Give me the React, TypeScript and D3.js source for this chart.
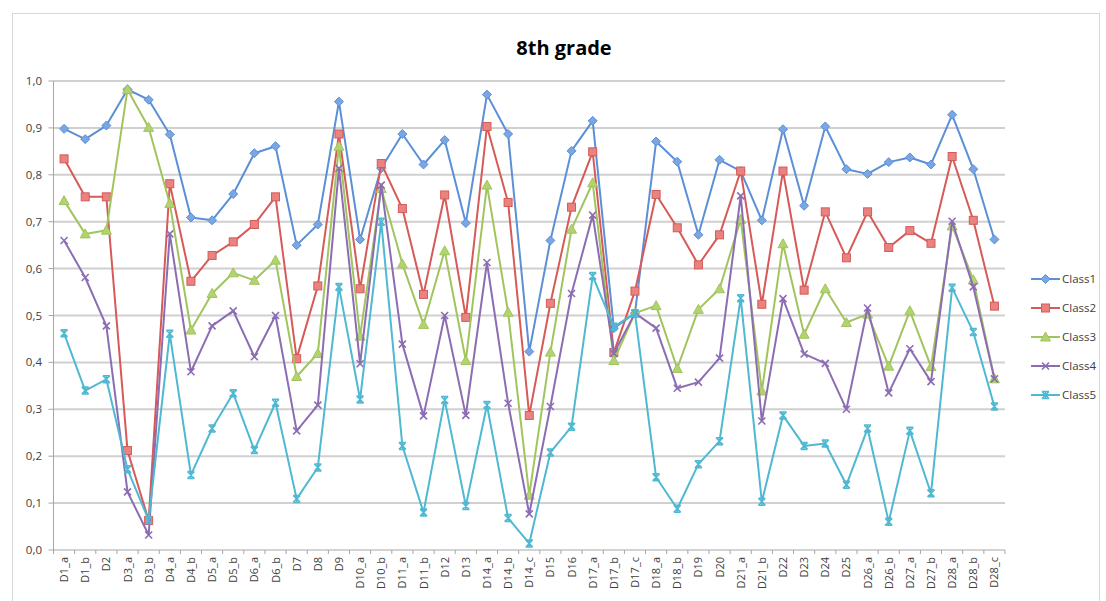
import React from "react";
import * as d3 from "d3";

const categories = [
  "D1_a", "D1_b", "D2", "D3_a", "D3_b", "D4_a", "D4_b", "D5_a", "D5_b", "D6_a", "D6_b",
  "D7", "D8", "D9", "D10_a", "D10_b", "D11_a", "D11_b", "D12", "D13", "D14_a", "D14_b",
  "D14_c", "D15", "D16", "D17_a", "D17_b", "D17_c", "D18_a", "D18_b", "D19", "D20",
  "D21_a", "D21_b", "D22", "D23", "D24", "D25", "D26_a", "D26_b", "D27_a", "D27_b",
  "D28_a", "D28_b", "D28_c",
];

const class1 = [
  0.898, 0.876, 0.905, 0.982, 0.96, 0.886, 0.709, 0.703, 0.759, 0.846, 0.861,
  0.65, 0.694, 0.956, 0.662, 0.814, 0.887, 0.822, 0.874, 0.697, 0.971, 0.887,
  0.423, 0.66, 0.851, 0.915, 0.473, 0.505, 0.871, 0.828, 0.672, 0.832,
  0.808, 0.703, 0.897, 0.734, 0.903, 0.812, 0.802, 0.827, 0.837, 0.822,
  0.928, 0.812, 0.662,
];
const class2 = [
  0.834, 0.753, 0.753, 0.212, 0.063, 0.781, 0.573, 0.628, 0.657, 0.694, 0.753,
  0.408, 0.563, 0.887, 0.557, 0.824, 0.728, 0.545, 0.757, 0.496, 0.903, 0.741,
  0.287, 0.526, 0.731, 0.849, 0.421, 0.552, 0.758, 0.687, 0.608, 0.672,
  0.808, 0.524, 0.808, 0.554, 0.721, 0.623, 0.721, 0.645, 0.681, 0.654,
  0.839, 0.703, 0.52,
];
const class3 = [
  0.745, 0.674, 0.682, 0.982, 0.901, 0.739, 0.469, 0.547, 0.591, 0.575, 0.618,
  0.37, 0.419, 0.861, 0.456, 0.771, 0.61, 0.481, 0.638, 0.404, 0.778, 0.507,
  0.117, 0.422, 0.684, 0.783, 0.404, 0.505, 0.521, 0.387, 0.513, 0.557,
  0.705, 0.339, 0.653, 0.46, 0.557, 0.485, 0.503, 0.392, 0.51, 0.391,
  0.691, 0.576, 0.365,
];
const class4 = [
  0.66, 0.581, 0.478, 0.124, 0.032, 0.674, 0.38, 0.478, 0.51, 0.412, 0.5,
  0.254, 0.309, 0.814, 0.397, 0.778, 0.439, 0.286, 0.5, 0.287, 0.613, 0.313,
  0.077, 0.306, 0.547, 0.714, 0.419, 0.505, 0.473, 0.345, 0.358, 0.409,
  0.755, 0.275, 0.536, 0.418, 0.398, 0.3, 0.516, 0.335, 0.429, 0.359,
  0.701, 0.561, 0.365,
];
const class5 = [
  0.462, 0.34, 0.364, 0.172, 0.064, 0.461, 0.16, 0.259, 0.334, 0.213, 0.314,
  0.109, 0.176, 0.561, 0.321, 0.7, 0.222, 0.08, 0.32, 0.094, 0.309, 0.068,
  0.014, 0.208, 0.263, 0.584, 0.476, 0.505, 0.155, 0.088, 0.183, 0.232,
  0.537, 0.103, 0.287, 0.222, 0.227, 0.139, 0.259, 0.06, 0.254, 0.121,
  0.559, 0.465, 0.306,
];

const yTicks = [0, 0.1, 0.2, 0.3, 0.4, 0.5, 0.6, 0.7, 0.8, 0.9, 1.0];

const series = [
  { name: "Class1", values: class1, color: "#5b8fd6", fill: "#7aa7e3", marker: "diamond" },
  { name: "Class2", values: class2, color: "#d65a57", fill: "#e88381", marker: "square" },
  { name: "Class3", values: class3, color: "#a2c45e", fill: "#b2d46e", marker: "triangle" },
  { name: "Class4", values: class4, color: "#8c6db3", fill: "#8c6db3", marker: "x" },
  { name: "Class5", values: class5, color: "#4fb8d2", fill: "#4fb8d2", marker: "star" },
];

const W = 1106;
const H = 601;
const left = 53.5;
const right = 1005;
const top = 81;
const bottom = 550;
const font = "'Open Sans', 'Liberation Sans', Arial, sans-serif";

function Marker({ type, x, y, color, fill }: { type: string; x: number; y: number; color: string; fill: string }) {
  if (type === "diamond") {
    const r = 4.5;
    return <path d={`M${x},${y - r}L${x + r},${y}L${x},${y + r}L${x - r},${y}Z`} fill={fill} stroke={color} strokeWidth={1} />;
  }
  if (type === "square") {
    const r = 4;
    return <rect x={x - r} y={y - r} width={2 * r} height={2 * r} fill={fill} stroke={color} strokeWidth={1} />;
  }
  if (type === "triangle") {
    const r = 5;
    return <path d={`M${x},${y - r}L${x + r},${y + r * 0.8}L${x - r},${y + r * 0.8}Z`} fill={fill} stroke={color} strokeWidth={1} />;
  }
  if (type === "x") {
    const r = 3.5;
    return <path d={`M${x - r},${y - r}L${x + r},${y + r}M${x + r},${y - r}L${x - r},${y + r}`} stroke={color} strokeWidth={1.6} fill="none" />;
  }
  const r = 3.5;
  return (
    <path
      d={`M${x - r},${y - r}L${x + r},${y + r}M${x + r},${y - r}L${x - r},${y + r}M${x},${y - r - 0.5}L${x},${y + r + 0.5}M${x - r},${y - r}L${x + r},${y - r}M${x - r},${y + r}L${x + r},${y + r}`}
      stroke={color}
      strokeWidth={1.5}
      fill="none"
    />
  );
}

export default function App() {
  const x = d3.scaleBand<string>().domain(categories).range([left, right]);
  const y = d3.scaleLinear().domain([0, 1]).range([bottom, top]);
  const cx = (c: string) => (x(c) ?? 0) + x.bandwidth() / 2;
  const fmt = (v: number) => d3.format(".1f")(v).replace(".", ",");

  const line = d3
    .line<number>()
    .x((_, i) => cx(categories[i]))
    .y((d) => y(d));

  const boundaries = categories.map((c) => x(c) ?? 0).concat([right]);

  return (
    <div style={{ position: "absolute", left: 0, top: 0 }}>
      <svg width={W} height={H} style={{ display: "block", background: "#fff" }}>
        <rect x={12.5} y={13.5} width={1087} height={620} fill="#fff" stroke="#d9d9d9" strokeWidth={1} />
        <text x={564} y={55} textAnchor="middle" fontFamily={font} fontWeight="bold" fontSize={20} fill="#000">
          8th grade
        </text>

        {/* gridlines */}
        {yTicks.filter((t) => t > 0).map((t) => (
          <line key={t} x1={left} x2={right} y1={y(t)} y2={y(t)} stroke="#d0d0d0" strokeWidth={2} />
        ))}

        {/* y axis */}
        <line x1={left} x2={left} y1={top} y2={bottom} stroke="#a6a6a6" strokeWidth={1} />
        {yTicks.map((t) => (
          <g key={t}>
            <line x1={left - 5} x2={left} y1={y(t)} y2={y(t)} stroke="#a6a6a6" />
            <text x={42} y={y(t) + 4} textAnchor="end" fontFamily={font} fontSize={11.5} fill="#404040">
              {fmt(t)}
            </text>
          </g>
        ))}

        {/* x axis */}
        <line x1={left} x2={right} y1={bottom} y2={bottom} stroke="#a6a6a6" strokeWidth={1} />
        {boundaries.map((b, i) => (
          <line key={i} x1={b} x2={b} y1={bottom} y2={bottom + 4} stroke="#a6a6a6" />
        ))}
        {categories.map((c) => (
          <text
            key={c}
            transform={`translate(${cx(c) + 4},${557}) rotate(-90)`}
            textAnchor="end"
            fontFamily={font}
            fontSize={11}
            fill="#404040"
          >
            {c}
          </text>
        ))}

        {/* series */}
        {series.map((s) => (
          <g key={s.name}>
            <path d={line(s.values) ?? ""} fill="none" stroke={s.color} strokeWidth={2} strokeLinejoin="round" />
            {s.values.map((v, i) => (
              <Marker key={i} type={s.marker} x={cx(categories[i])} y={y(v)} color={s.color} fill={s.fill} />
            ))}
          </g>
        ))}

        {/* legend */}
        {series.map((s, i) => {
          const ly = 279 + i * 29;
          return (
            <g key={s.name}>
              <line x1={1031} x2={1060} y1={ly} y2={ly} stroke={s.color} strokeWidth={2} />
              <Marker type={s.marker} x={1045.5} y={ly} color={s.color} fill={s.fill} />
              <text x={1062} y={ly + 4} fontFamily={font} fontSize={11.5} fill="#404040">
                {s.name}
              </text>
            </g>
          );
        })}
      </svg>
    </div>
  );
}
